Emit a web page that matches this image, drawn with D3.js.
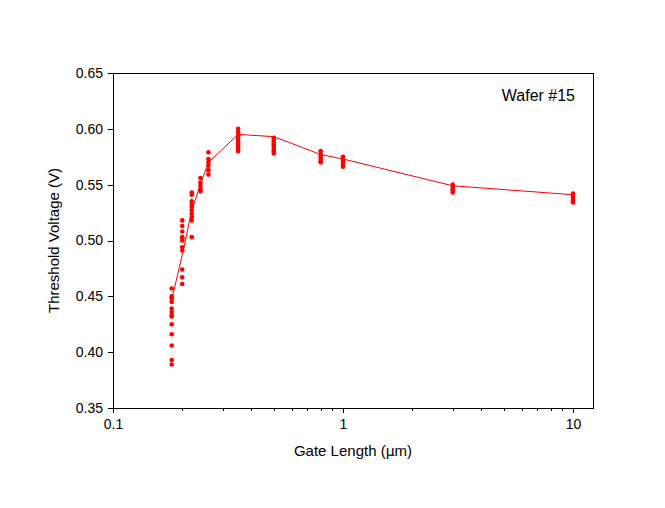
<!DOCTYPE html>
<html><head><meta charset="utf-8">
<script src="https://cdn.jsdelivr.net/npm/d3@7"></script>
<style>body{margin:0;background:#fff}svg text{font-family:Arial,"Liberation Sans",sans-serif}</style>
</head><body><svg id="c" width="665" height="508"></svg>
<script>
const gateLengths = [0.18, 0.2, 0.22, 0.24, 0.26, 0.35, 0.5, 0.8, 1.0, 3.0, 10.0];
const measured = [
  [0.457, 0.450, 0.448, 0.445, 0.439, 0.436, 0.433, 0.432, 0.425, 0.416, 0.406, 0.393, 0.389],
  [0.518, 0.513, 0.508, 0.503, 0.502, 0.500, 0.494, 0.491, 0.474, 0.467, 0.461],
  [0.543, 0.541, 0.535, 0.532, 0.530, 0.527, 0.524, 0.521, 0.518, 0.503],
  [0.556, 0.552, 0.549, 0.546, 0.544],
  [0.579, 0.573, 0.570, 0.567, 0.563, 0.559],
  [0.600, 0.597, 0.594, 0.592, 0.590, 0.588, 0.586, 0.584, 0.582, 0.580],
  [0.592, 0.590, 0.588, 0.586, 0.584, 0.582, 0.580, 0.578],
  [0.580, 0.577, 0.575, 0.573, 0.571, 0.570],
  [0.575, 0.572, 0.570, 0.568, 0.566],
  [0.550, 0.548, 0.546, 0.545, 0.543],
  [0.542, 0.540, 0.538, 0.536, 0.534]
];
const trend = [0.447, 0.487, 0.527, 0.550, 0.570, 0.595, 0.593, 0.577, 0.573, 0.549, 0.541];
const yTicks = [0.35, 0.40, 0.45, 0.50, 0.55, 0.60, 0.65];
const xTickLabels = ["0.1", "1", "10"];

const svg = d3.select("#c");
const L = 113, R = 593, T = 73, B = 408;
const x = d3.scaleLog().domain([0.1, Math.pow(10, 2 * (R - L) / 460 - 1)]).range([L, R]);
const y = d3.scaleLinear().domain([0.35, 0.65]).range([B, T]);

svg.append("rect").attr("x", L).attr("y", T).attr("width", R - L).attr("height", B - T)
  .attr("fill", "none").attr("stroke", "#000").attr("stroke-width", 1).attr("shape-rendering", "crispEdges");

const ya = svg.append("g").attr("transform", `translate(${L},0)`)
  .call(d3.axisLeft(y).tickValues(yTicks).tickFormat(d3.format(".2f")).tickSize(5).tickPadding(5));
ya.select(".domain").remove();
ya.selectAll("text").attr("font-size", 14).attr("fill", "#000");
ya.selectAll("line").attr("shape-rendering", "crispEdges");

const minor = [];
[0.1, 1, 10].forEach(d => { for (let k = 2; k <= 9; k++) { const v = d * k; if (v <= x.domain()[1]) minor.push(v); } });
const xmin = svg.append("g").attr("transform", `translate(0,${B})`)
  .call(d3.axisBottom(x).tickValues(minor).tickFormat("").tickSize(3));
xmin.select(".domain").remove();
xmin.selectAll("line").attr("shape-rendering", "crispEdges");
const xa = svg.append("g").attr("transform", `translate(0,${B})`)
  .call(d3.axisBottom(x).tickValues([0.1, 1, 10]).tickFormat((d, i) => xTickLabels[i]).tickSize(5).tickPadding(6));
xa.select(".domain").remove();
xa.selectAll("line").attr("shape-rendering", "crispEdges");
xa.selectAll("text").attr("font-size", 14).attr("fill", "#000");

svg.append("path").datum(gateLengths.map((g, i) => [g, trend[i]]))
  .attr("d", d3.line().x(d => x(d[0])).y(d => y(d[1])))
  .attr("fill", "none").attr("stroke", "#ff0000").attr("stroke-width", 1);

const pts = [];
gateLengths.forEach((g, i) => measured[i].forEach(v => pts.push([g, v])));
svg.append("g").selectAll("circle").data(pts).enter().append("circle")
  .attr("cx", d => x(d[0])).attr("cy", d => y(d[1])).attr("r", 2.3).attr("fill", "#ff0000");

svg.append("text").attr("x", (L + R) / 2).attr("y", 456).attr("text-anchor", "middle")
  .attr("font-size", 15).html('Gate Length (<tspan font-family="DejaVu Sans" font-size="14">μ</tspan>m)');
svg.append("text").attr("transform", `translate(59,${(T + B) / 2}) rotate(-90)`).attr("text-anchor", "middle")
  .attr("font-size", 15).text("Threshold Voltage (V)");
svg.append("text").attr("x", 575).attr("y", 101).attr("text-anchor", "end")
  .attr("font-size", 16).text("Wafer #15");
</script></body></html>
